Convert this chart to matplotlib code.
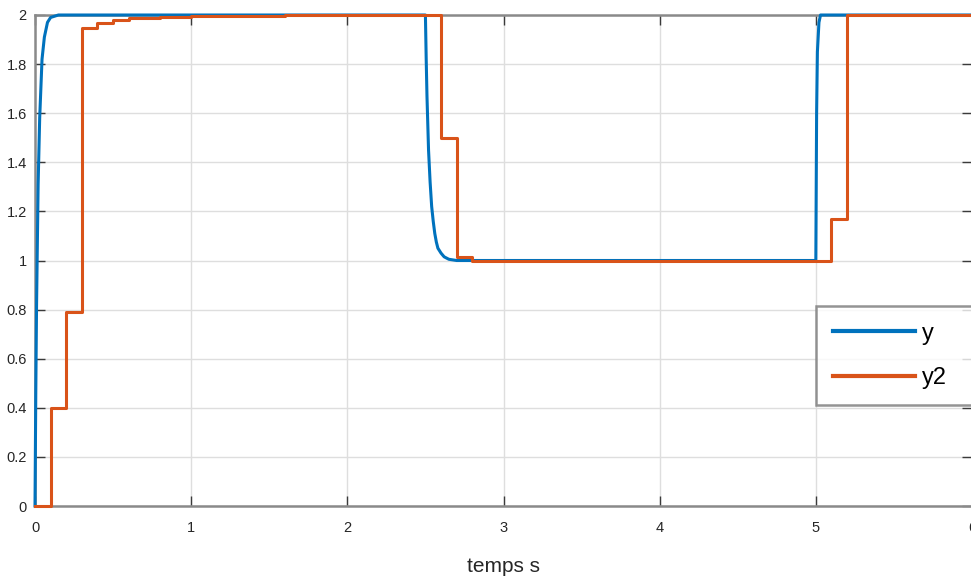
import matplotlib
matplotlib.use("Agg")
import matplotlib.pyplot as plt

# ...   data
# continuous response y
t_y = [0, 0.005, 0.01, 0.02, 0.03, 0.045, 0.06, 0.08, 0.10, 0.15,
       2.50, 2.505, 2.51, 2.52, 2.53, 2.54, 2.55, 2.56, 2.57, 2.58, 2.60, 2.62, 2.65, 2.70,
       5.00, 5.005, 5.01, 5.02, 5.03, 6.0]
y = [0, 0.46, 0.82, 1.31, 1.58, 1.82, 1.91, 1.97, 1.99, 2.0,
     2.0, 1.82, 1.67, 1.45, 1.32, 1.22, 1.16, 1.11, 1.075, 1.05, 1.03, 1.015, 1.005, 1.0,
     1.0, 1.6, 1.85, 1.97, 2.0, 2.0]

# sampled response y2 (held between samples)
t_y2 = [0, 0.1, 0.2, 0.3, 0.4, 0.5, 0.6, 0.8, 1.0, 1.3, 1.6,
        2.6, 2.7, 2.8, 5.1, 5.2, 6.0]
y2 = [0, 0.40, 0.79, 1.948, 1.966, 1.980, 1.986, 1.990, 1.994, 1.997, 2.0,
      1.50, 1.015, 1.0, 1.17, 2.0, 2.0]

x_ticks = [0, 1, 2, 3, 4, 5, 6]
y_ticks = [0, 0.2, 0.4, 0.6, 0.8, 1, 1.2, 1.4, 1.6, 1.8, 2]
y_ticklabels = ['0', '0.2', '0.4', '0.6', '0.8', '1', '1.2', '1.4', '1.6', '1.8', '2']

plt.rcParams['font.family'] = ['Liberation Sans', 'DejaVu Sans']

fig = plt.figure(figsize=(9.71, 5.81), dpi=100)
ax = fig.add_axes([35 / 971, 75 / 581, 937 / 971, 491 / 581])

blue = '#0072BD'
orange = '#D95319'

ax.plot(t_y, y, color=blue, lw=2.2, label='y', clip_on=False, zorder=3)
ax.step(t_y2, y2, where='post', color=orange, lw=2.2, label='y2', clip_on=False, zorder=4)

ax.set_xlim(0, 6)
ax.set_ylim(0, 2)
ax.set_xticks(x_ticks)
ax.set_yticks(y_ticks)
ax.set_yticklabels(y_ticklabels)

ax.grid(True, color='#dedede', lw=1.0)
ax.set_axisbelow(True)
for s in ax.spines.values():
    s.set_color('#8a8a8a')
    s.set_linewidth(1.8)

ax.tick_params(direction='in', length=7, width=1.0, color='#3a3a3a',
               top=True, right=True, labelsize=10.5, labelcolor='#262626', pad=6)
ax.tick_params(axis='x', pad=11)

ax.set_xlabel('temps s', fontsize=15, color='#262626', labelpad=16)

# legend box runs off the right edge like in the original
x0 = (816 - 35) / 937
y_top = (506 - 306) / 491
y_bot = (506 - 406) / 491
leg = ax.legend(loc='upper left', bbox_to_anchor=(x0, y_bot, 0.25, y_top - y_bot),
                mode='expand', fontsize=17, frameon=True, fancybox=False, handlelength=3.5,
                borderpad=0.7, labelspacing=0.95, handletextpad=0.3, borderaxespad=0)
leg.get_frame().set_edgecolor('#7a7a7a')
leg.get_frame().set_linewidth(1.8)
for line in leg.get_lines():
    line.set_linewidth(3)

fig.savefig('out.png', dpi=100)
